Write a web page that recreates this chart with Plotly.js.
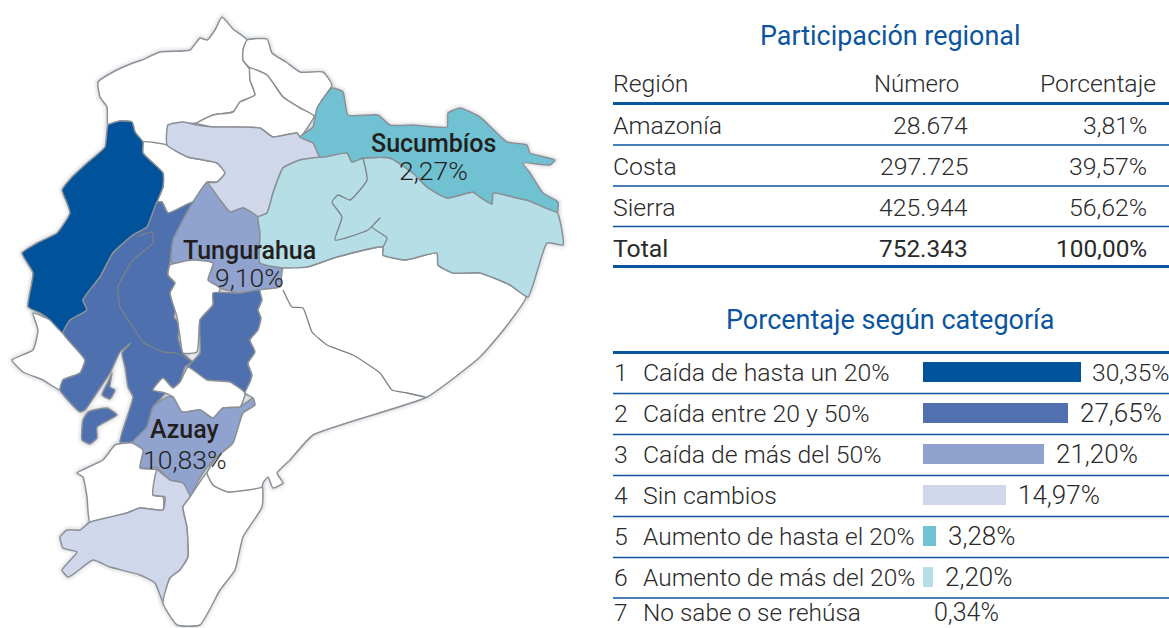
<!DOCTYPE html>
<html><head><meta charset="utf-8">
<script src="https://cdn.plot.ly/plotly-3.0.1.min.js"></script>
<style>html,body{margin:0;padding:0;background:#fff}</style></head>
<body><div id="chart" style="width:1169px;height:628px"></div>
<script>
// ---- table data
const tableTitle = 'Participación regional';
const tableHead = ['Región','Número','Porcentaje'];
const regions = ['Amazonía','Costa','Sierra','Total'];
const numbers = ['28.674','297.725','425.944','752.343'];
const shares = ['3,81%','39,57%','56,62%','100,00%'];
// ---- bar data
const barTitle = 'Porcentaje según categoría';
const catIds = [1,2,3,4,5,6,7];
const catNames = ['Caída de hasta un 20%','Caída entre 20 y 50%','Caída de más del 50%','Sin cambios','Aumento de hasta el 20%','Aumento de más del 20%','No sabe o se rehúsa'];
const catLabels = ['30,35%','27,65%','21,20%','14,97%','3,28%','2,20%','0,34%'];
// bar lengths as drawn in the reference, which are not strictly proportional to their printed labels
const barLengths = [30.35,27.8,23.2,15.9,2.5,1.9,0.34];
const catColors = ['#00529b','#5070b0','#90a3cf','#d0d7ea','#70c2d2','#b5dee7','#ffffff'];
// ---- map outlines
const esmeraldas = [[222,17],[233,29],[247,40],[243,50],[243,60],[250,70],[250,80],[255,95],[240,102],[233,112],[213,115],[197,123],[168,125],[170,135],[167,145],[143,142],[135,132],[132,122],[120,121],[108,125],[107,107],[100,97],[98,82],[113,72],[133,63],[142,60],[160,52],[190,50],[200,38],[207,40],[215,30]];
const carchi = [[247,40],[267,39],[272,53],[286,62],[300,72],[323,72],[332,85],[322,100],[314,116],[300,108],[283,97],[267,75],[250,68],[243,60],[243,50]];
const imbabura = [[250,68],[267,75],[283,97],[300,108],[314,116],[300,137],[297,133],[273,137],[260,128],[213,127],[197,123],[213,115],[233,112],[240,102],[255,95],[250,80]];
const santoDomingo = [[143,142],[167,145],[188,157],[217,163],[225,173],[217,182],[207,182],[193,202],[168,213],[162,202],[157,202],[163,187],[163,173],[143,153]];
const manabi = [[108,125],[120,121],[132,122],[135,132],[143,142],[143,153],[163,173],[163,187],[157,202],[147,227],[133,235],[113,253],[100,277],[83,300],[87,310],[70,320],[63,333],[50,320],[40,313],[28,307],[33,273],[22,253],[37,243],[57,233],[70,213],[67,203],[62,190],[72,177],[87,163],[105,147]];
const santaElena = [[12,360],[33,350],[38,330],[33,313],[50,320],[63,333],[85,360],[80,373],[63,380],[60,390],[43,380],[23,372]];
const guayasRios = [[162,202],[168,213],[193,202],[173,240],[170,263],[168,275],[175,283],[170,293],[177,305],[174,317],[180,325],[178,337],[183,353],[192,362],[185,367],[180,382],[173,388],[163,378],[153,390],[165,393],[153,407],[147,427],[132,442],[120,442],[133,397],[128,387],[125,367],[122,353],[131,343],[120,352],[110,373],[100,388],[85,410],[80,412],[60,390],[63,380],[80,373],[85,360],[63,333],[70,320],[87,310],[83,300],[100,277],[113,253],[133,235],[147,227],[157,202]];
const guayasBlob = [[82,440],[83,420],[88,412],[107,408],[117,415],[97,427],[97,438],[90,444]];
const guayasIsle = [[102,395],[108,382],[112,373],[110,387],[115,390],[110,399]];
const innerLine = [[137,237],[152,232],[153,243],[133,260],[118,287],[120,307],[133,327],[143,342],[163,352],[177,353],[192,362]];
const cotopaxi = [[207,183],[220,200],[230,212],[243,208],[258,217],[260,233],[260,263],[283,268],[280,287],[260,290],[240,293],[220,288],[208,280],[213,263],[193,260],[172,263],[173,240],[193,202]];
const bolivar = [[170,265],[193,260],[213,263],[208,280],[220,288],[213,305],[200,320],[197,352],[183,353],[180,337],[177,317],[170,293],[175,283],[168,275]];
const chimborazo = [[213,293],[240,293],[260,290],[262,300],[258,310],[261,318],[258,330],[250,340],[255,352],[248,363],[252,375],[250,382],[245,393],[230,382],[207,380],[188,367],[192,362],[200,353],[200,320],[213,305]];
const canar = [[188,367],[207,380],[230,382],[245,393],[240,407],[223,408],[213,418],[200,410],[182,412],[173,397],[165,393],[153,390],[163,378],[173,388],[180,382]];
const azuay = [[167,397],[173,397],[182,412],[200,410],[213,418],[223,408],[240,407],[253,398],[255,405],[243,413],[233,443],[217,457],[205,470],[197,483],[190,497],[183,483],[170,480],[157,468],[140,468],[143,450],[132,443],[147,427],[153,407]];
const elOro = [[77,473],[103,460],[115,445],[132,443],[143,450],[140,468],[157,470],[153,495],[163,497],[163,510],[140,508],[127,513],[90,522],[87,497],[83,477]];
const loja = [[90,522],[127,513],[140,508],[163,510],[165,497],[153,495],[157,470],[170,480],[183,483],[190,497],[183,507],[187,527],[188,557],[180,570],[170,578],[163,602],[155,583],[140,575],[110,567],[93,560],[75,573],[68,577],[62,570],[77,552],[63,548],[60,537],[67,530],[80,530]];
const zamora = [[190,497],[207,473],[213,485],[228,492],[262,487],[262,507],[243,537],[235,570],[220,590],[200,625],[177,625],[163,603],[170,578],[180,570],[188,557],[187,527],[183,507]];
const morona = [[260,290],[280,287],[283,268],[307,267],[337,257],[383,247],[383,255],[405,260],[437,253],[438,265],[453,273],[480,273],[510,285],[526,297],[505,328],[480,357],[427,397],[313,435],[290,460],[277,473],[283,483],[273,488],[268,477],[263,483],[262,487],[228,492],[213,485],[207,473],[217,457],[233,443],[243,413],[255,405],[253,398],[245,393],[250,382],[252,375],[248,363],[255,352],[250,340],[258,330],[261,318],[258,310],[262,300]];
const moronaLine = [[283,290],[292,307],[303,308],[312,332],[327,345],[353,355],[380,373],[392,390],[407,393],[425,397]];
const napoOrellana = [[300,160],[320,157],[347,153],[352,162],[363,158],[390,158],[413,173],[427,187],[447,198],[473,192],[480,197],[492,204],[493,193],[513,197],[527,200],[557,212],[563,245],[547,243],[528,297],[510,285],[480,273],[453,273],[438,265],[437,253],[405,260],[383,255],[383,247],[337,257],[307,267],[283,268],[260,263],[260,233],[258,217],[267,213],[273,193],[283,168]];
const napoLine = [[363,158],[367,180],[350,200],[338,195],[332,202],[342,217],[335,240],[368,230],[380,218],[372,227],[387,238],[383,247]];
const sucumbios = [[332,88],[343,92],[348,115],[378,115],[390,125],[413,125],[447,127],[448,113],[460,108],[480,117],[507,142],[527,145],[530,153],[555,160],[550,165],[523,163],[530,173],[543,193],[558,202],[557,212],[527,200],[513,197],[493,193],[492,204],[480,197],[473,192],[447,198],[427,187],[413,173],[390,158],[363,158],[352,162],[347,153],[320,157],[313,143],[300,137],[313,127],[317,108]];
const pichincha = [[168,125],[183,122],[197,125],[213,127],[260,128],[273,137],[297,133],[300,137],[313,143],[320,157],[300,160],[283,168],[273,193],[267,213],[258,217],[243,208],[230,212],[220,200],[207,183],[217,182],[225,173],[217,163],[188,157],[167,145]];
const mapLabels = [
  {name:'Sucumbíos', pct:'2,27%', at:[433,143,170]},
  {name:'Tungurahua', pct:'9,10%', at:[249,250,277]},
  {name:'Azuay', pct:'10,83%', at:[184,429,459]}
];
const provinces = [
  [esmeraldas,'#ffffff'],[carchi,'#ffffff'],[imbabura,'#ffffff'],[santoDomingo,'#ffffff'],[santaElena,'#ffffff'],
  [manabi,'#00529b'],[guayasRios,'#4f70ae'],[guayasBlob,'#4f70ae'],[guayasIsle,'#4f70ae'],
  [pichincha,'#d0d7ea'],[cotopaxi,'#90a3cf'],[bolivar,'#ffffff'],[chimborazo,'#4f70ae'],[canar,'#ffffff'],
  [azuay,'#90a3cf'],[elOro,'#ffffff'],[loja,'#d0d7ea'],[zamora,'#ffffff'],[morona,'#ffffff'],
  [napoOrellana,'#b5dee7'],[sucumbios,'#70c2d2']
];
const FONT = 'Roboto, "Liberation Sans", sans-serif';
const TXT = '#2b2a2b', BLUE = '#0b559f';
const traces = [];
const closed = p => p.concat([p[0]]);
// soft halo below the map
[[9,'rgba(150,155,160,0.08)'],[5,'rgba(150,155,160,0.14)']].forEach(h=>{
  provinces.forEach(([p])=>traces.push({type:'scatter',mode:'lines',x:closed(p).map(d=>d[0]),y:closed(p).map(d=>d[1]),
    line:{color:h[1],width:h[0],shape:'spline',smoothing:0.45},hoverinfo:'skip',showlegend:false}));
});
provinces.forEach(([p,c])=>traces.push({type:'scatter',mode:'lines',fill:'toself',fillcolor:c,
  x:closed(p).map(d=>d[0]),y:closed(p).map(d=>d[1]),line:{color:'#8a9096',width:1.5,shape:'spline',smoothing:0.45},hoverinfo:'skip',showlegend:false}));
[innerLine,moronaLine,napoLine].forEach(p=>traces.push({type:'scatter',mode:'lines',x:p.map(d=>d[0]),y:p.map(d=>d[1]),
  line:{color:'#7a8189',width:1.3,shape:'spline',smoothing:0.45},hoverinfo:'skip',showlegend:false}));
// bars
traces.push({type:'bar',orientation:'h',x:barLengths,y:catIds,xaxis:'x2',yaxis:'y2',width:0.49,
  marker:{color:catColors,line:{width:0}},hoverinfo:'skip',showlegend:false});

const ann=[]; const shapes=[];
const T=(x,y,text,size,anchor,color,weight)=>ann.push({x,y,xref:'x',yref:'y',text,showarrow:false,xanchor:anchor,yanchor:'middle',
  font:{family:FONT,size,color:color||TXT,weight:weight||300},align:anchor});
T(890,36,tableTitle,26.9,'center',BLUE,400);
T(890,319.5,barTitle,27,'center',BLUE,400);
const SZ=24.8;
const headY=83.5; const rowY=[125,166,207,248];
T(611,headY,tableHead[0],SZ,'left');T(961,headY,tableHead[1],24,'right');T(1158,headY,tableHead[2],SZ,'right');
regions.forEach((r,i)=>{
  const w=i===3?400:300;
  T(611,rowY[i],r,SZ,'left',TXT,w);T(970,rowY[i],numbers[i],i===3?24.4:SZ,'right',TXT,w);T(1149,rowY[i],shares[i],i===3?24.4:SZ,'right',TXT,w);
});
const line=(y,w)=>shapes.push({type:'line',xref:'x',yref:'y',x0:613,x1:1169,y0:y,y1:y,line:{color:'#0b559f',width:w}});
line(103.5,3);line(145,1.6);line(186,1.6);line(226.5,1.6);line(266.5,3);
line(352.5,3);[393.5,434.5,475.5,516.5,557.5,598].forEach(y=>line(y,1.6));
const labelShift=[9,10,10,10,10,10,7], labelSize=[24.6,26,26,26,26,26,25];
const nameSize=[24.8,24.8,24.8,24.8,24.5,24.5,24.4];
const rowCenter=[372,413,454,495,536,577,612.5];
catIds.forEach((c,i)=>{
  const yp=rowCenter[i];
  T(612,yp,String(c),i===6?24.4:SZ,'left');
  T(641,yp,catNames[i],nameSize[i],'left');
  ann.push({x:barLengths[i],y:yp,xref:'x2',yref:'y',text:catLabels[i],showarrow:false,xanchor:'left',yanchor:'middle',xshift:labelShift[i],
    font:{family:FONT,size:labelSize[i],color:TXT,weight:300}});
});
mapLabels.forEach(l=>{
  ann.push({x:l.at[0],y:l.at[1],xref:'x',yref:'y',text:l.name,showarrow:false,font:{family:FONT,size:25,color:'#231f20',weight:500}});
  ann.push({x:l.at[0],y:l.at[2],xref:'x',yref:'y',text:l.pct,showarrow:false,font:{family:FONT,size:26.5,color:'#231f20',weight:300}});
});
const hidden={visible:false,fixedrange:true};
Plotly.newPlot('chart',traces,{
  width:1169,height:628,margin:{l:0,r:0,t:0,b:0},paper_bgcolor:'#fff',plot_bgcolor:'rgba(0,0,0,0)',showlegend:false,bargap:0,
  xaxis:Object.assign({range:[0,1169],domain:[0,1]},hidden),
  yaxis:Object.assign({range:[628,0],domain:[0,1]},hidden),
  xaxis2:Object.assign({anchor:'y2',domain:[923/1169,1],range:[0,(1169-923)/5.21]},hidden),
  yaxis2:Object.assign({anchor:'x2',domain:[0,(628-352)/628],range:[1+256/41,1-20/41]},hidden),
  annotations:ann,shapes:shapes
},{staticPlot:true,displayModeBar:false});
</script></body></html>
